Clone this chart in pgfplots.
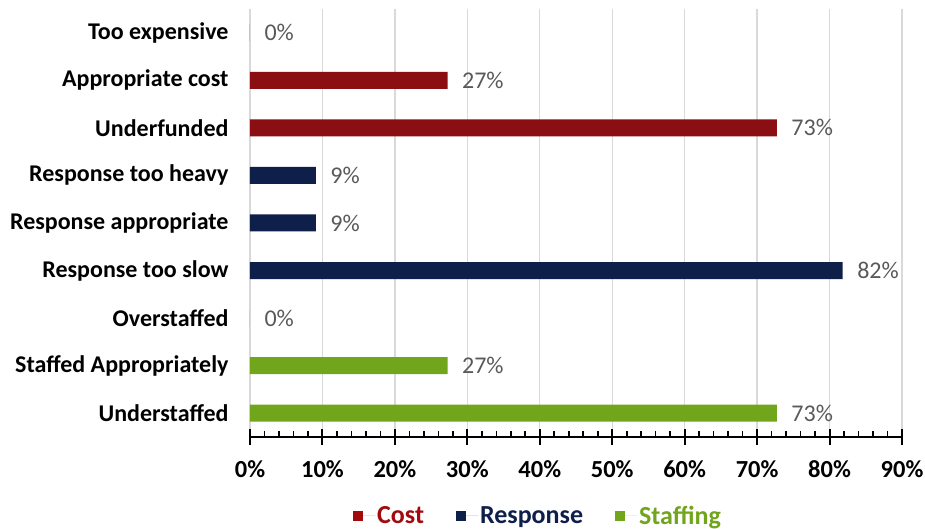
\documentclass[border=0pt]{standalone}
\usepackage{pgfplots}
\pgfplotsset{compat=1.18}
\usepackage{fontspec}
\setmainfont{Carlito}

\definecolor{costred}{HTML}{8B0E12}
\definecolor{costtext}{HTML}{A30A0E}
\definecolor{respnavy}{HTML}{0E1F4A}
\definecolor{staffgreen}{HTML}{70A51C}
\definecolor{gridgray}{HTML}{D9D9D9}
\definecolor{labelgray}{HTML}{595959}

\begin{document}
\begin{tikzpicture}[x=1pt,y=1pt]
\path[use as bounding box] (-250,-92) rectangle (675,437);
\begin{axis}[
  at={(0,0)}, anchor=south west,
  scale only axis, width=652pt, height=428pt,
  xbar, bar width=17pt, bar shift=0pt,
  xmin=0, xmax=90, ymin=-0.5, ymax=8.5,
  ytick={0,...,8},
  yticklabels={Understaffed, Staffed Appropriately, Overstaffed,
    Response too slow, Response appropriate, Response too heavy,
    Underfunded, Appropriate cost, Too expensive},
  axis x line*=bottom, axis y line*=left,
  y axis line style={draw=none},
  ytick style={draw=none},
  xtick={0,10,...,90}, minor x tick num=4,
  xmajorgrids, major x grid style={gridgray, line width=1.4pt},
  x axis line style={line width=2pt, black, -},
  x tick style={black, line width=2pt},
  major tick length=16pt, minor tick length=6pt, tick align=center,
  minor x tick style={yshift=3pt, line width=1.6pt},
  /pgf/number format/assume math mode=true,
  xticklabel={\pgfmathprintnumber{\tick}\%},
  xticklabel style={font=\fontsize{24.5}{28}\selectfont\bfseries, yshift=-12pt},
  yticklabel style={font=\fontsize{24}{28}\selectfont\bfseries, text=black, xshift=-10pt},
  point meta=x,
  nodes near coords={\pgfmathprintnumber[fixed,precision=0]{\pgfplotspointmeta}\%},
  nodes near coords style={font=\fontsize{24}{28}\selectfont, text=labelgray, anchor=west, xshift=11pt},
  legend style={at={(0.158,-0.184)}, anchor=west, draw=none, fill=none,
    font=\fontsize{26}{30}\selectfont\bfseries, inner sep=0pt,
    /tikz/every even column/.append style={column sep=30pt}},
  legend columns=3,
]
% shares of 11 responses in each group
\addplot[fill=costred, draw=none,
  legend image code/.code={\fill[costtext] (0pt,-5pt) rectangle (10pt,5pt);
    \path (0pt,0pt) -- (22pt,0pt);}]
  coordinates {(72.73,6) (27.27,7) (0,8)};
\addlegendentry{\textcolor{costtext}{Cost}}
\addplot[fill=respnavy, draw=none,
  legend image code/.code={\fill[respnavy] (0pt,-5pt) rectangle (10pt,5pt);
    \path (0pt,0pt) -- (22pt,0pt);}]
  coordinates {(81.82,3) (9.09,4) (9.09,5)};
\addlegendentry{\textcolor{respnavy}{Response}}
\addplot[fill=staffgreen, draw=none,
  legend image code/.code={\fill[staffgreen] (0pt,-5pt) rectangle (10pt,5pt);
    \path (0pt,0pt) -- (22pt,0pt);}]
  coordinates {(72.73,0) (27.27,1) (0,2)};
\addlegendentry{\textcolor{staffgreen}{Staffing}}
\end{axis}
\end{tikzpicture}
\end{document}
